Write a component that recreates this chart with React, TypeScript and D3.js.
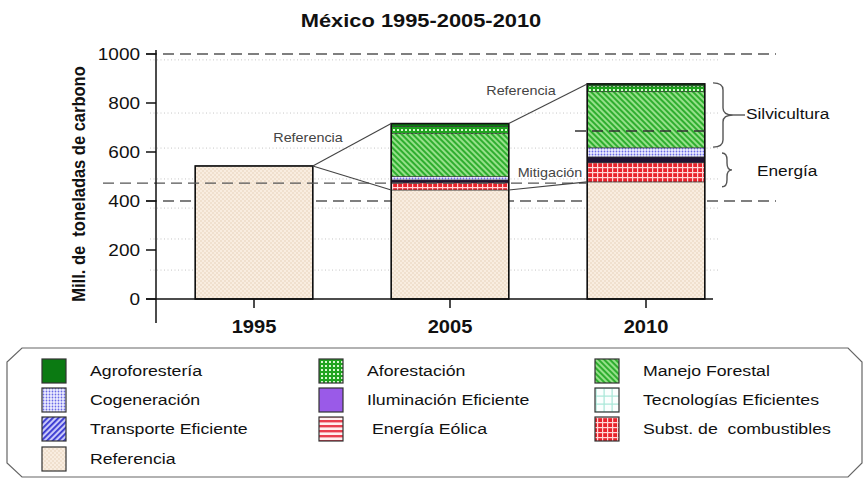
import React from 'react';
import * as d3 from 'd3';

const categories = ['1995', '2005', '2010'];
const referencia = [543, 445, 478];
const substCombustibles = [0, 29, 78];
const energiaEolica = [0, 0, 0];
const iluminacionEficiente = [0, 12, 24];
const transporteEficiente = [0, 0, 0];
const tecnologiasEficientes = [0, 0, 0];
const cogeneracion = [0, 14, 37];
const manejoForestal = [0, 175, 229];
const aforestacion = [0, 29, 24];
const agroforesteria = [0, 12, 8];

const yTicks = [0, 200, 400, 600, 800, 1000];
const dashedBehind = [1000, 400];
const dottedLevels = [976, 759, 616, 490, 371, 245, 118];
const refLevel2010 = 473;
const innerDash2010 = 686;

const seriesKeys = [
  'referencia', 'substCombustibles', 'energiaEolica', 'iluminacionEficiente',
  'transporteEficiente', 'tecnologiasEficientes', 'cogeneracion',
  'manejoForestal', 'aforestacion', 'agroforesteria',
];
const seriesValues: Record<string, number[]> = {
  referencia, substCombustibles, energiaEolica, iluminacionEficiente,
  transporteEficiente, tecnologiasEficientes, cogeneracion,
  manejoForestal, aforestacion, agroforesteria,
};

const legendRows = [
  ['agroforesteria', 'aforestacion', 'manejoForestal'],
  ['cogeneracion', 'iluminacionEficiente', 'tecnologiasEficientes'],
  ['transporteEficiente', 'energiaEolica', 'substCombustibles'],
  ['referencia'],
];
const legendLabels: Record<string, string> = {
  agroforesteria: 'Agroforestería',
  aforestacion: 'Aforestación',
  manejoForestal: 'Manejo Forestal',
  cogeneracion: 'Cogeneración',
  iluminacionEficiente: 'Iluminación Eficiente',
  tecnologiasEficientes: 'Tecnologías Eficientes',
  transporteEficiente: 'Transporte Eficiente',
  energiaEolica: ' Energía Eólica',
  substCombustibles: 'Subst. de  combustibles',
  referencia: 'Referencia',
};
const fills: Record<string, string> = {
  referencia: 'url(#pRef)',
  substCombustibles: 'url(#pSubst)',
  energiaEolica: 'url(#pEol)',
  iluminacionEficiente: '#9a5ae8',
  transporteEficiente: 'url(#pTransp)',
  tecnologiasEficientes: 'url(#pTec)',
  cogeneracion: 'url(#pCogen)',
  manejoForestal: 'url(#pManejo)',
  aforestacion: 'url(#pAfor)',
  agroforesteria: '#0b7a12',
};
const barFillOverride: Record<string, string> = {
  iluminacionEficiente: '#1e1433',
};

const FONT = 'Liberation Sans, Arial, Helvetica, sans-serif';
const SX = 1.15;

function T(props: any) {
  const { x, y, size, weight = 'normal', anchor = 'start', fill = '#111', children, sx = SX } = props;
  return (
    <text
      transform={`translate(${x},${y}) scale(${sx},1)`}
      fontFamily={FONT}
      fontSize={size}
      fontWeight={weight}
      textAnchor={anchor}
      fill={fill}
      style={{ whiteSpace: 'pre' }}
    >
      {children}
    </text>
  );
}

function brace(x: number, y0: number, y1: number, w: number) {
  const ym = (y0 + y1) / 2;
  const xm = x + w * 0.5;
  const r = Math.min(7, (y1 - y0) / 4);
  return `M${x},${y0} Q${xm},${y0} ${xm},${y0 + r} L${xm},${ym - r} Q${xm},${ym} ${x + w},${ym} Q${xm},${ym} ${xm},${ym + r} L${xm},${y1 - r} Q${xm},${y1} ${x},${y1}`;
}

export default function App() {
  const W = 866, H = 479;
  const x = d3.scaleBand<string>().domain(categories).range([156, 744]).paddingInner(0.4).paddingOuter(0.2);
  const y = d3.scaleLinear().domain([0, 1000]).range([299, 54]);
  const axisX = 156;
  const bw = x.bandwidth();

  const table = categories.map((c, i) => {
    const row: any = { cat: c };
    seriesKeys.forEach((k) => (row[k] = seriesValues[k][i]));
    return row;
  });
  const stacked = d3.stack<any>().keys(seriesKeys)(table);
  const totals = categories.map((_, i) => d3.sum(seriesKeys, (k) => seriesValues[k][i]));

  const x0 = (c: string) => x(c) as number;
  const x1 = (c: string) => (x(c) as number) + bw;

  const legendColX = [42, 319, 595];
  const legendRowY = [359, 388, 417, 447];

  return (
    <svg width={W} height={H} style={{ position: 'absolute', left: 0, top: 0, background: '#fff' }}>
      <defs>
        <pattern id="pRef" width="4" height="4" patternUnits="userSpaceOnUse">
          <rect width="4" height="4" fill="#f9ede0" />
          <circle cx="1" cy="1" r="0.7" fill="#e2c9b0" />
          <circle cx="3" cy="3" r="0.7" fill="#e2c9b0" />
        </pattern>
        <pattern id="pSubst" width="5" height="5" patternUnits="userSpaceOnUse">
          <rect width="5" height="5" fill="#e8222c" />
          <rect x="0" y="2" width="5" height="1.2" fill="#ffd6d6" />
          <rect x="2" y="0" width="1.2" height="5" fill="#ffd6d6" />
        </pattern>
        <pattern id="pEol" width="6" height="5" patternUnits="userSpaceOnUse">
          <rect width="6" height="5" fill="#fff0f0" />
          <rect y="0" width="6" height="2.4" fill="#e84050" />
        </pattern>
        <pattern id="pTec" width="8" height="8" patternUnits="userSpaceOnUse">
          <rect width="8" height="8" fill="#fbfffe" />
          <rect x="3.5" width="1.2" height="8" fill="#a8e8d8" />
          <rect y="3.5" width="8" height="1.2" fill="#a8e8d8" />
        </pattern>
        <pattern id="pCogen" width="3" height="3" patternUnits="userSpaceOnUse">
          <rect width="3" height="3" fill="#eeeeff" />
          <circle cx="1.5" cy="1.5" r="0.9" fill="#6a6ae6" />
        </pattern>
        <pattern id="pTransp" width="4" height="4" patternUnits="userSpaceOnUse" patternTransform="rotate(45)">
          <rect width="4" height="4" fill="#c8c8fa" />
          <rect width="1.8" height="4" fill="#3434d0" />
        </pattern>
        <pattern id="pManejo" width="4" height="4" patternUnits="userSpaceOnUse" patternTransform="rotate(-45)">
          <rect width="4" height="4" fill="#96e08a" />
          <rect width="2" height="4" fill="#2fae2f" />
        </pattern>
        <pattern id="pAfor" width="4" height="4" patternUnits="userSpaceOnUse">
          <rect width="4" height="4" fill="#1fa31f" />
          <rect x="1" y="1" width="2" height="2" fill="#d8f7d0" />
        </pattern>
      </defs>

      {/* Title */}
      <T x={421} y={27} size={19} weight="bold" anchor="middle">México 1995-2005-2010</T>

      {/* faint dotted lines */}
      {dottedLevels.map((v) => (
        <line key={'dt' + v} x1={150} x2={720} y1={y(v)} y2={y(v)} stroke="#9a9a9a" strokeWidth={1} strokeDasharray="1,2.5" opacity={0.55} />
      ))}

      {/* dashed reference lines behind bars */}
      {dashedBehind.map((v) => (
        <line key={'ds' + v} x1={146} x2={776} y1={y(v)} y2={y(v)} stroke="#555" strokeWidth={1.4} strokeDasharray="11,6" />
      ))}

      {/* bars */}
      {stacked.map((s) => (
        <g key={s.key}>
          {s.map((d, i) => {
            const h = y(d[0]) - y(d[1]);
            if (h <= 0) return null;
            const c = categories[i];
            return (
              <rect
                key={c}
                x={x0(c)}
                y={y(d[1])}
                width={bw}
                height={h}
                fill={barFillOverride[s.key] || fills[s.key]}
                stroke="#333"
                strokeWidth={0.6}
              />
            );
          })}
        </g>
      ))}
      {categories.map((c, i) => (
        <rect key={'o' + c} x={x0(c)} y={y(totals[i])} width={bw} height={y(0) - y(totals[i])} fill="none" stroke="#111" strokeWidth={1.6} />
      ))}

      {/* dashed lines on top */}
      <line x1={103} x2={x0('2010')} y1={y(refLevel2010)} y2={y(refLevel2010)} stroke="#555" strokeWidth={1.4} strokeDasharray="11,6" />
      <line x1={575} x2={x1('2010')} y1={y(innerDash2010)} y2={y(innerDash2010)} stroke="#333" strokeWidth={1.4} strokeDasharray="11,6" />

      {/* connector lines */}
      <g stroke="#444" strokeWidth={1.1} fill="none">
        <line x1={x1('1995')} y1={y(totals[0])} x2={x0('2005')} y2={y(totals[1])} />
        <line x1={x1('1995')} y1={y(referencia[0])} x2={x0('2005')} y2={y(referencia[1])} />
        <line x1={x1('2005')} y1={y(totals[1])} x2={x0('2010')} y2={y(totals[2])} />
        <line x1={x1('2005')} y1={y(referencia[1])} x2={x0('2010')} y2={y(referencia[2])} />
      </g>
      <T x={308} y={142} size={12.5} anchor="middle" fill="#444">Referencia</T>
      <T x={521} y={95} size={12.5} anchor="middle" fill="#444">Referencia</T>
      <T x={550} y={177} size={12.5} anchor="middle" fill="#444">Mitigación</T>

      {/* axes */}
      <line x1={axisX} x2={axisX} y1={50} y2={323} stroke="#111" strokeWidth={1.5} />
      <line x1={146} x2={713} y1={y(0)} y2={y(0)} stroke="#111" strokeWidth={1.5} />
      {yTicks.map((t) => (
        <g key={'yt' + t}>
          <line x1={146} x2={axisX} y1={y(t)} y2={y(t)} stroke="#111" strokeWidth={1.5} />
          <T x={140} y={y(t) + 6} size={16.5} anchor="end">{String(t)}</T>
        </g>
      ))}
      {categories.map((c) => (
        <g key={'xt' + c}>
          <line x1={x0(c) + bw / 2} x2={x0(c) + bw / 2} y1={y(0)} y2={y(0) + 9} stroke="#111" strokeWidth={1.5} />
          <T x={x0(c) + bw / 2} y={333} size={17.5} weight="bold" anchor="middle">{c}</T>
        </g>
      ))}
      <text
        transform={`translate(85,184) scale(${SX},1) rotate(-90)`}
        fontFamily={FONT}
        fontSize={16.5}
        fontWeight="bold"
        textAnchor="middle"
        fill="#111"
        style={{ whiteSpace: 'pre' }}
      >
        Mill. de  toneladas de carbono
      </text>

      {/* braces */}
      <g stroke="#555" strokeWidth={1.4} fill="none">
        <path d={brace(713, y(totals[2]) - 1, y(620), 20)} />
        <line x1={733} x2={745} y1={(y(totals[2]) - 1 + y(620)) / 2} y2={(y(totals[2]) - 1 + y(620)) / 2} />
        <path d={brace(722, y(596), y(458), 10)} />
      </g>
      <T x={746} y={119} size={15}>Silvicultura</T>
      <T x={757} y={176} size={15}>Energía</T>

      {/* legend */}
      <path d="M22,348 L848,348 L862,362 L862,463 L848,477 L22,477 L7,463 L7,362 Z" fill="none" stroke="#666" strokeWidth={1.2} />
      {legendRows.map((row, ri) =>
        row.map((k, ci) => (
          <g key={k}>
            <rect x={legendColX[ci]} y={legendRowY[ri]} width={24} height={24} fill={fills[k]} stroke="#333" strokeWidth={1.2} />
            <T x={legendColX[ci] + 48} y={legendRowY[ri] + 17} size={15.4}>
              {legendLabels[k]}
            </T>
          </g>
        ))
      )}
    </svg>
  );
}
